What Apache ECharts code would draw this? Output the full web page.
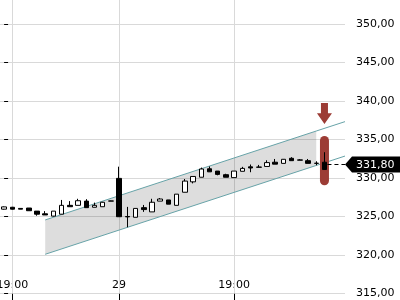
<!DOCTYPE html>
<html>
<head>
<meta charset="utf-8">
<script src="https://cdn.jsdelivr.net/npm/echarts@6/dist/echarts.min.js"></script>
<style>html,body{margin:0;padding:0;background:#fff}#c{width:400px;height:300px}</style>
</head>
<body>
<div id="c"></div>
<script>
// ---- data ----
const categories = ['', '19:00', '', '', '', '', '', '', '', '', '', '', '', '', '29', '', '', '', '', '', '',
  '', '', '', '', '', '', '', '19:00', '', '', '', '', '', '', '', '', '', '', '', '', ''];
const open  = [325.95, 326.20, 326.05, 326.10, 325.70, 325.35, 325.05, 325.30, 326.45, 326.45, 327.00, 326.20, 326.27, 327.02, 329.95, 325.00, 324.90, 326.15, 325.60, 327.00, 327.15, 326.45, 328.15, 329.50, 330.10, 331.20, 330.90, 330.43, 330.05, 330.87, 331.45, 331.42, 331.50, 332.05, 331.90, 332.56, 332.35, 332.25, 331.92, 332.05];
const close = [326.25, 325.95, 325.95, 325.75, 325.30, 325.20, 325.70, 326.45, 326.27, 327.05, 326.15, 326.45, 326.85, 327.00, 324.97, 324.95, 326.05, 325.90, 326.85, 327.27, 326.60, 327.90, 329.60, 330.20, 331.17, 330.80, 330.47, 330.10, 330.90, 331.25, 331.30, 331.40, 332.00, 331.80, 332.43, 332.25, 332.32, 331.90, 331.90, 331.10];
const low   = [325.90, 325.90, 325.95, 325.75, 325.10, 325.20, 325.00, 325.30, 326.27, 326.45, 326.15, 326.20, 326.27, 327.00, 324.97, 323.60, 324.90, 325.60, 325.60, 327.00, 326.60, 326.45, 328.15, 329.30, 330.10, 330.80, 330.35, 330.10, 330.05, 330.87, 330.75, 331.40, 331.50, 331.80, 331.90, 332.25, 332.32, 331.90, 331.65, 331.10];
const high  = [326.30, 326.25, 326.05, 326.10, 325.70, 325.70, 325.70, 327.15, 327.00, 327.30, 327.25, 326.80, 326.90, 327.05, 331.47, 326.25, 326.05, 326.50, 327.30, 327.40, 327.15, 327.90, 329.87, 330.20, 331.35, 331.50, 330.90, 330.55, 330.90, 331.45, 331.75, 331.70, 332.30, 332.47, 332.45, 332.70, 332.45, 332.47, 332.17, 333.35];
const gridTickIdx = [1, 14, 28];
const channelX      = [5, 38, 41.5];
const channelTop    = [324.55, 336.10, 337.32];
const channelBottom = [320.09, 331.63, 332.85];
const alertIdx = 39;
const arrowTop = 339.75, arrowHeadTop = 338.40, arrowTip = 337.00;
const capsuleTop = 335.45, capsuleBottom = 329.05;
const lastIdx = 39;
const lastPrice = 331.80;
const yMin = 315, yMax = 355, yStep = 5;
const xEnd = 41.5;

const fmt = v => v.toFixed(2).replace('.', ',');
const ohlc = open.map((o, i) => [o, close[i], low[i], high[i]]);
const FONT = 'DejaVu Sans';
const RED = '#9c3c35';
const TEAL = '#67a3a8';

const chart = echarts.init(document.getElementById('c'), null, {renderer: 'canvas'});
chart.setOption({
  animation: false,
  backgroundColor: '#fff',
  grid: {left: 0, right: 55, top: -14.5, bottom: 6.5, containLabel: false, outerBoundsMode: 'none'},
  xAxis: [{
    type: 'category', data: categories, boundaryGap: true,
    axisLine: {show: false},
    axisTick: {show: true, alignWithLabel: true, length: 7, interval: (i, v) => v !== '', lineStyle: {color: '#000'}},
    axisLabel: {inside: true, margin: 3, interval: (i, v) => v !== '', color: '#000', fontSize: 11, fontFamily: FONT},
    splitLine: {show: false}
  }, {
    type: 'value', min: -0.5, max: categories.length - 0.5, show: false
  }],
  yAxis: {
    type: 'value', position: 'right', min: yMin, max: yMax, interval: yStep,
    axisLine: {show: false},
    axisTick: {show: true, length: 4, lineStyle: {color: '#000'}},
    axisLabel: {margin: 11, color: '#000', fontSize: 11, fontFamily: FONT, formatter: fmt},
    splitLine: {show: true, lineStyle: {color: '#d9d9d9'}}
  },
  series: [
    { // vertical grid lines
      type: 'custom', xAxisIndex: 1, yAxisIndex: 0, silent: true, z: 1,
      data: gridTickIdx.map(i => [i, yMin]),
      renderItem: (params, api) => {
        const cs = params.coordSys;
        const x = Math.round(api.coord([api.value(0), yMin])[0]) + 0.5;
        return {type: 'line', shape: {x1: x, y1: cs.y, x2: x, y2: cs.y + cs.height},
          style: {stroke: '#d9d9d9', lineWidth: 1}};
      }
    },
    { // channel fill
      type: 'custom', xAxisIndex: 1, yAxisIndex: 0, silent: true, z: 2,
      data: [[channelX[0], channelTop[0]]],
      renderItem: (params, api) => {
        const pts = [
          api.coord([channelX[0], channelTop[0]]),
          api.coord([channelX[1], channelTop[1]]),
          api.coord([channelX[1], channelBottom[1]]),
          api.coord([channelX[0], channelBottom[0]])
        ];
        return {type: 'polygon', shape: {points: pts}, style: {fill: 'rgba(0,0,0,0.135)'}};
      }
    },
    {
      type: 'line', xAxisIndex: 1, yAxisIndex: 0, silent: true, z: 3, symbol: 'none',
      data: channelX.map((x, i) => [x, channelTop[i]]),
      lineStyle: {color: TEAL, width: 1}
    },
    {
      type: 'line', xAxisIndex: 1, yAxisIndex: 0, silent: true, z: 3, symbol: 'none',
      data: channelX.map((x, i) => [x, channelBottom[i]]),
      lineStyle: {color: TEAL, width: 1}
    },
    { // alert marker (under candles)
      type: 'custom', xAxisIndex: 1, yAxisIndex: 0, silent: true, z: 4, clip: false,
      data: [[alertIdx, capsuleTop]],
      renderItem: (params, api) => {
        const c = api.coord([alertIdx, arrowTop])[0];
        const yA = api.coord([alertIdx, arrowTop])[1];
        const yH = api.coord([alertIdx, arrowHeadTop])[1];
        const yT = api.coord([alertIdx, arrowTip])[1];
        const yC1 = api.coord([alertIdx, capsuleTop])[1];
        const yC2 = api.coord([alertIdx, capsuleBottom])[1];
        return {type: 'group', children: [
          {type: 'polygon', shape: {points: [[c - 3.5, yA], [c + 3.5, yA], [c + 3.5, yH], [c + 7.5, yH], [c, yT], [c - 7.5, yH], [c - 3.5, yH]]},
            style: {fill: RED}},
          {type: 'rect', shape: {x: c - 4.5, y: yC1, width: 9, height: yC2 - yC1, r: 4.5},
            style: {fill: RED}}
        ]};
      }
    },
    { // last price dashed line + tag
      type: 'custom', xAxisIndex: 1, yAxisIndex: 0, silent: true, z: 5, clip: false,
      data: [[lastIdx, lastPrice]],
      renderItem: (params, api) => {
        const p0 = api.coord([lastIdx, lastPrice]);
        const pe = api.coord([xEnd, lastPrice]);
        const y = Math.round(pe[1]) + 0.5, x = pe[0];
        return {type: 'group', children: [
          {type: 'line', shape: {x1: p0[0] + 3, y1: y, x2: x, y2: y},
            style: {stroke: '#000', lineWidth: 1, lineDash: [4, 3]}},
          {type: 'polygon', shape: {points: [[x, y], [x + 7, y - 8], [x + 60, y - 8], [x + 60, y + 8], [x + 7, y + 8]]},
            style: {fill: '#000'}},
          {type: 'text', x: x + 11, y: y + 0.5,
            style: {text: fmt(lastPrice), fill: '#fff', font: '11px "DejaVu Sans"', align: 'left', verticalAlign: 'middle'}}
        ]};
      }
    },
    {
      type: 'candlestick', xAxisIndex: 0, yAxisIndex: 0, z: 6,
      data: ohlc,
      barWidth: 5,
      itemStyle: {color: '#fff', color0: '#000', borderColor: '#000', borderColor0: '#000', borderColorDoji: '#000', borderWidth: 1}
    }
  ]
});
</script>
</body>
</html>
